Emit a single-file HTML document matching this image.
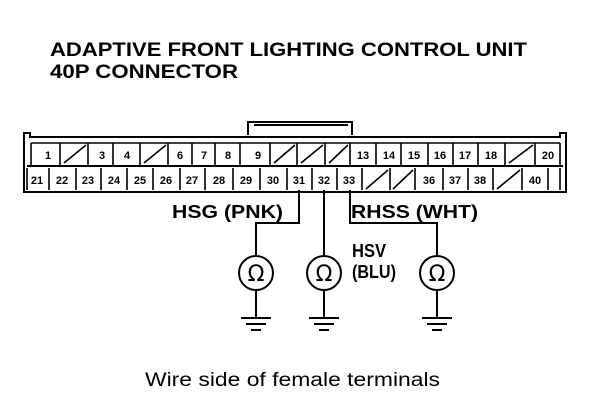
<!DOCTYPE html>
<html><head><style>
body{margin:0;background:#fff;}
svg{display:block;}
</style></head><body>
<svg width="608" height="412" xmlns="http://www.w3.org/2000/svg" font-family="Liberation Sans, sans-serif">
<rect width="608" height="412" fill="#fff"/>
<text x="50" y="56" font-size="19" font-weight="bold" textLength="477" lengthAdjust="spacingAndGlyphs">ADAPTIVE FRONT LIGHTING CONTROL UNIT</text>
<text x="50" y="78" font-size="19" font-weight="bold" textLength="188" lengthAdjust="spacingAndGlyphs">40P CONNECTOR</text>
<g fill="none" stroke="#000" stroke-width="2">
<path d="M248,135 V122 H352 V135"/>
<path d="M254,125 H348"/>
<path d="M24,192 V133 H30 V137 H560 V133 H566 V192 Z"/>
<line x1="27" y1="166" x2="563" y2="166"/>
</g>
<g stroke="#000" stroke-width="1.6" fill="none">
<path d="M31,143 V165 M60,143 V165 M88,143 V165 M113,143 V165 M140,143 V165 M168,143 V165 M192,143 V165 M215,143 V165 M240,143 V165 M270,143 V165 M297,143 V165 M325,143 V165 M350,143 V165 M376,143 V165 M401,143 V165 M428,143 V165 M453,143 V165 M478,143 V165 M505,143 V165 M535,143 V165 M560,143 V165"/>
<path d="M31,143 H560"/>
<path d="M64,163 L86,145 M144,163 L166,145 M274,163 L295,145 M301,163 L323,145 M329,163 L348,145 M509,163 L533,145"/>
<path d="M27,168 V190 M49,168 V190 M76,168 V190 M101,168 V190 M127,168 V190 M153,168 V190 M180,168 V190 M205,168 V190 M233,168 V190 M260,168 V190 M287,168 V190 M312,168 V190 M337,168 V190 M362,168 V190 M390,168 V190 M415,168 V190 M443,168 V190 M468,168 V190 M493,168 V190 M522,168 V190 M548,168 V190 M560,168 V190"/>
<path d="M366,189 L388,170 M393,189 L413,170 M497,189 L520,170"/>
</g>
<g font-size="11" font-weight="bold" text-anchor="middle">
<text x="48" y="159">1</text><text x="102" y="159">3</text><text x="127" y="159">4</text>
<text x="180" y="159">6</text><text x="204" y="159">7</text><text x="228" y="159">8</text><text x="258" y="159">9</text>
<text x="363" y="159">13</text><text x="389" y="159">14</text><text x="414" y="159">15</text><text x="440" y="159">16</text><text x="465" y="159">17</text><text x="491" y="159">18</text><text x="548" y="159">20</text>
<text x="37" y="184">21</text><text x="62" y="184">22</text><text x="88" y="184">23</text><text x="114" y="184">24</text><text x="140" y="184">25</text><text x="166" y="184">26</text><text x="192" y="184">27</text><text x="219" y="184">28</text><text x="246" y="184">29</text><text x="273" y="184">30</text><text x="299" y="184">31</text><text x="324" y="184">32</text><text x="349" y="184">33</text><text x="429" y="184">36</text><text x="455" y="184">37</text><text x="480" y="184">38</text><text x="535" y="184">40</text>
</g>
<g fill="none" stroke="#000" stroke-width="2">
<path d="M299,190 V223 H256 V256"/>
<path d="M324,190 V256"/>
<path d="M350,190 V223 H437 V256"/>
<circle cx="256" cy="273" r="17"/><circle cx="324" cy="273" r="17"/><circle cx="437" cy="273" r="17"/>
<path d="M256,290 V318 M241,318 H271 M246,324 H266 M251,330 H261"/>
<path d="M324,290 V318 M309,318 H339 M314,324 H334 M319,330 H329"/>
<path d="M437,290 V318 M422,318 H452 M427,324 H447 M432,330 H442"/>
</g>
<g font-size="22" text-anchor="middle" font-family="DejaVu Sans, sans-serif">
<text x="256" y="281">Ω</text><text x="324" y="281">Ω</text><text x="437" y="281">Ω</text>
</g>
<g font-size="18" font-weight="bold">
<text x="172" y="218" textLength="111" lengthAdjust="spacingAndGlyphs">HSG (PNK)</text>
<text x="351" y="218" textLength="127" lengthAdjust="spacingAndGlyphs">RHSS (WHT)</text>
<text x="352" y="257" textLength="34" lengthAdjust="spacingAndGlyphs">HSV</text>
<text x="352" y="278" textLength="44" lengthAdjust="spacingAndGlyphs">(BLU)</text>
</g>
<text x="145" y="386" font-size="19" textLength="295" lengthAdjust="spacingAndGlyphs">Wire side of female terminals</text>
</svg>
</body></html>
